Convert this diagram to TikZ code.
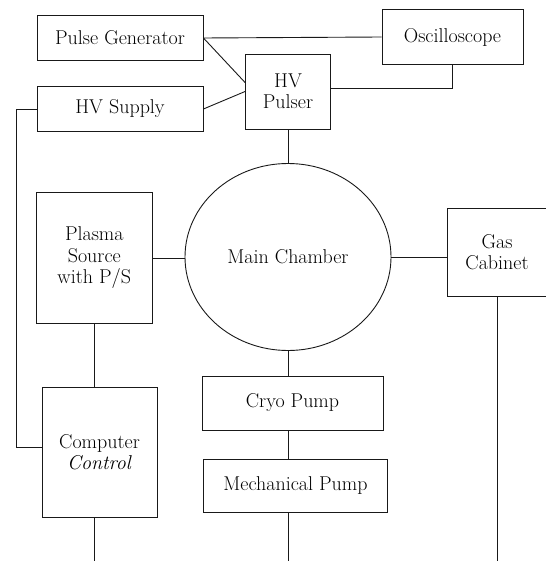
\documentclass[tikz,border=0pt]{standalone}
\usepackage{tikz}
\usetikzlibrary{positioning, shapes.geometric, calc}

\definecolor{InkColor}{RGB}{25,25,25}

\begin{document}
\begin{tikzpicture}[x=1pt, y=-1pt, line width=0.9pt,
    unitbox/.style={draw=InkColor, rectangle, align=center, inner sep=0pt, font=\fontsize{20}{21.5}\selectfont},
    link/.style={draw=InkColor, line width=0.9pt}]
          \useasboundingbox (0,0) rectangle (545,561);
          \coordinate (bottomEdge) at (0,561);
          \node[unitbox, minimum width=166pt, minimum height=45pt] (pulsegen) at (120,38) {Pulse Generator};
          \node[unitbox, minimum width=141pt, minimum height=55pt] (scope) at (452.5,37) {Oscilloscope};
          \node[unitbox, minimum width=85pt, minimum height=75pt] (pulser) at (288,91.5) {HV\\Pulser};
          \node[unitbox, minimum width=166pt, minimum height=45pt] (supply) at (120,109) {HV Supply};
          \node[unitbox, ellipse, minimum width=206pt, minimum height=187pt] (chamber) at (288,257) {Main Chamber};
          \node[unitbox, minimum width=115.5pt, minimum height=131pt] (plasma) at (94.3,258) {Plasma\\Source\\with P/S};
          \node[unitbox, minimum width=99pt, minimum height=88pt] (gas) at (497,252) {Gas\\Cabinet};
          \node[unitbox, minimum width=181pt, minimum height=54pt] (cryo) at (292.5,403) {Cryo Pump};
          \node[unitbox, minimum width=184pt, minimum height=53.5pt] (mech) at (295.5,486) {Mechanical Pump};
          \node[unitbox, minimum width=115pt, minimum height=130pt] (computer) at (99.5,452) {Computer\\\textit{Control}};
          \draw[link] (pulsegen.east) -- (scope.west);
          \draw[link] (pulsegen.east) -- ([yshift=9pt]pulser.west);
          \draw[link] (supply.east) -- (pulser.west);
          \draw[link] (scope.south) |- ([yshift=3pt]pulser.east);
          \draw[link] (pulser.south) -- (chamber.north);
          \draw[link] (plasma.east) -- (plasma.east -| chamber.west);
          \draw[link] (chamber.east) -- (chamber.east -| gas.west);
          \draw[link] (chamber.south) -- (chamber.south |- cryo.north);
          \draw[link] (chamber.south |- cryo.south) -- (chamber.south |- mech.north);
          \draw[link] (chamber.south |- mech.south) -- (chamber.south |- bottomEdge);
          \draw[link] (gas.south) -- (gas.south |- bottomEdge);
          \draw[link] (plasma.south) -- (plasma.south |- computer.north);
          \draw[link] (plasma.south |- computer.south) -- (plasma.south |- bottomEdge);
          \draw[link] (supply.west) -- ++(-20,0) |- ([yshift=5pt]computer.west);
        \end{tikzpicture}
\end{document}
